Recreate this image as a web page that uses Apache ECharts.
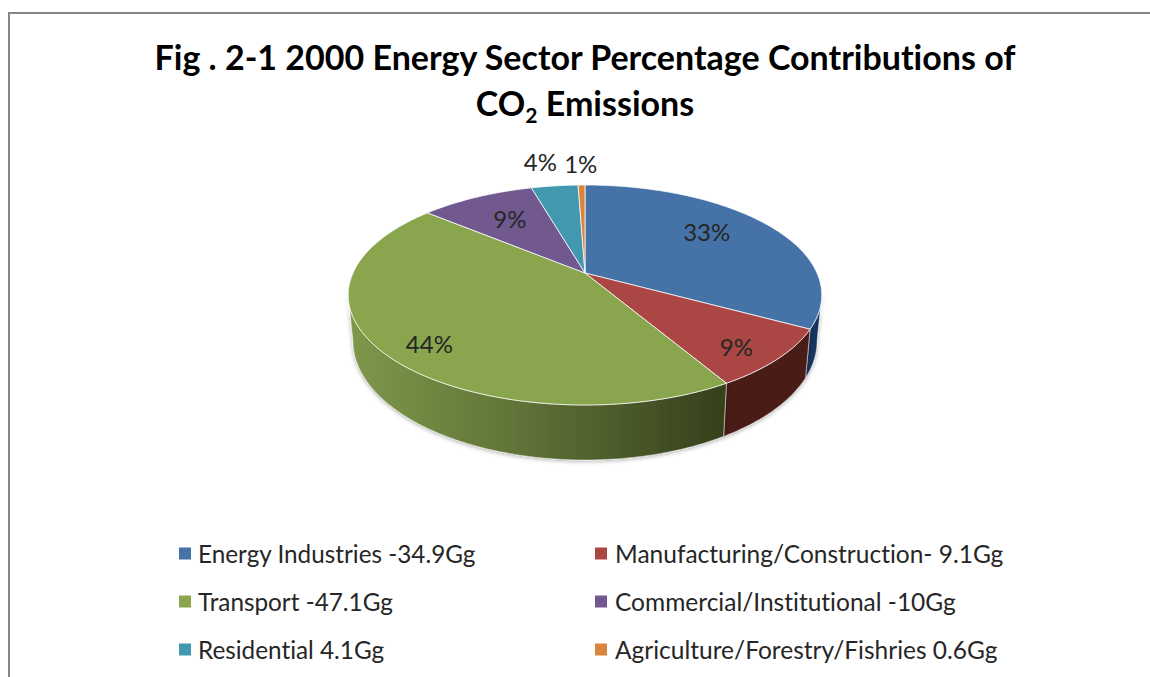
<!DOCTYPE html>
<html>
<head>
<meta charset="utf-8">
<title>Energy Sector CO2</title>
<script src="https://cdn.jsdelivr.net/npm/echarts@6/dist/echarts.min.js"></script>
<style>
html, body { margin: 0; padding: 0; background: #fff; overflow: hidden; }
#chart { width: 1150px; height: 677px; }
#chart text { font-variant-ligatures: none !important; }
</style>
</head>
<body>
<div id="chart"></div>
<script>
// values from the figure
var sectors = [
  'Energy Industries -34.9Gg',
  'Manufacturing/Construction- 9.1Gg',
  'Transport -47.1Gg',
  'Commercial/Institutional -10Gg',
  'Residential 4.1Gg',
  'Agriculture/Forestry/Fishries 0.6Gg'
];
var emissions = [34.9, 9.1, 47.1, 10, 4.1, 0.6];
var percentLabels = ['33%', '9%', '44%', '9%', '4%', '1%'];

var colors = ['#4572a7', '#aa4643', '#89a54e', '#71588f', '#4198af', '#db843d'];
var sideColors = ['#17365d', '#481b17', null, '#3f2f55', '#1f5566', '#8a4a16'];

// pie geometry, top face is a circle seen in perspective
var cx = 585, cy = 295, ry = 110, rxFlat = 232, persp = 0.2;
var depth = 44, bottomScale = 0.98;
var labelR = [0.65, 0.85, 0.82, 0.65, 1.3, 1.29];
var labelDx = [0, -9, 7, -1, -7, 0];
var labelDy = [-9, 2, 8, -3, -4, -1];

var total = emissions.reduce(function (a, b) { return a + b; }, 0);
var starts = [];
emissions.reduce(function (acc, v, i) { starts[i] = acc; return acc + v; }, 0);

function toAngle(v) { return v / total * Math.PI * 2; }

function project(theta, r) {
  var u = Math.sin(theta) * r, v = Math.cos(theta) * r;
  var den = 1 + persp * v;
  return [cx + rxFlat * u / den, cy - (ry * v + ry * persp) / den];
}
function projectBottom(theta) {
  var v = Math.cos(theta), den = 1 + persp * v;
  var p = project(theta, 1);
  return [cx + (p[0] - cx) * bottomScale, p[1] + depth / den];
}

// the wall is only seen between the two tangent points
var sideFrom = Math.acos(-persp);
var sideTo = Math.PI * 2 - sideFrom;

function sliceChildren(i) {
  var a0 = toAngle(starts[i]);
  var a1 = a0 + toAngle(emissions[i]);
  var n = Math.max(4, Math.ceil((a1 - a0) * 60));
  var top = [project(0, 0)];
  for (var k = 0; k <= n; k++) top.push(project(a0 + (a1 - a0) * k / n, 1));

  var children = [];
  var s0 = Math.max(a0, sideFrom), s1 = Math.min(a1, sideTo);
  if (s1 > s0) {
    var upper = [], lower = [];
    for (var j = 0; j <= n; j++) {
      var t = s0 + (s1 - s0) * j / n;
      upper.push(project(t, 1));
      lower.unshift(projectBottom(t));
    }
    var fill = sideColors[i];
    if (i === 2) {
      fill = new echarts.graphic.LinearGradient(349, 0, 724, 0, [
        { offset: 0, color: '#7e984b' },
        { offset: 0.5, color: '#5c6f35' },
        { offset: 1, color: '#36401c' }
      ], true);
    }
    children.push({
      type: 'polygon',
      z2: 1,
      shape: { points: upper.concat(lower) },
      style: {
        fill: fill,
        stroke: 'rgba(255,255,255,0.55)',
        lineWidth: 0.8,
        shadowBlur: 4,
        shadowColor: 'rgba(0,0,0,0.35)',
        shadowOffsetY: 1
      }
    });
  }
  children.push({
    type: 'polygon',
    z2: 10,
    shape: { points: top },
    style: { fill: colors[i], stroke: 'rgba(255,255,255,0.75)', lineWidth: 1 }
  });
  var lp = project((a0 + a1) / 2, labelR[i]);
  children.push({
    type: 'text',
    z2: 20,
    style: {
      x: lp[0] + labelDx[i],
      y: lp[1] + labelDy[i],
      text: percentLabels[i],
      align: 'center',
      verticalAlign: 'middle',
      font: '24px Lato',
      fill: '#262626'
    }
  });
  return children;
}

var series = sectors.map(function (name, i) {
  return {
    type: 'custom',
    name: name,
    coordinateSystem: 'none',
    color: colors[i],
    itemStyle: { color: colors[i] },
    silent: true,
    data: [emissions[i]],
    renderItem: function () {
      return { type: 'group', children: sliceChildren(i) };
    }
  };
});

function legendColumn(names, left, textPad, fontSize) {
  return {
    data: names,
    orient: 'vertical',
    left: left,
    top: 539,
    itemGap: 19,
    itemWidth: 12,
    itemHeight: 12,
    icon: 'rect',
    selectedMode: false,
    padding: 0,
    textStyle: { fontFamily: 'Lato', fontSize: fontSize, color: '#262626', padding: [4, 0, 0, textPad], lineHeight: 25 }
  };
}

var chart = echarts.init(document.getElementById('chart'), null, { renderer: 'svg' });
chart.setOption({
  animation: false,
  backgroundColor: '#fff',
  title: {
    text: 'Fig . 2-1 2000 Energy Sector Percentage Contributions of\nCO{sub|2} Emissions',
    left: 585,
    top: 33,
    textAlign: 'center',
    padding: 0,
    textStyle: {
      fontFamily: 'Lato',
      fontWeight: 'bold',
      fontSize: 34,
      lineHeight: 46,
      color: '#000',
      rich: {
        sub: { fontFamily: 'Lato', fontWeight: 'bold', fontSize: 21, lineHeight: 46, padding: [24, 0, 0, 0], color: '#000' }
      }
    }
  },
  legend: [
    legendColumn([sectors[0], sectors[2], sectors[4]], 179, 2, 24.3),
    legendColumn([sectors[1], sectors[3], sectors[5]], 595, 3, 24.5)
  ],
  graphic: [
    {
      type: 'polyline',
      silent: true,
      shape: { points: [[9, 677], [9, 13], [1150, 13]] },
      style: { stroke: '#868686', lineWidth: 2, fill: 'none' }
    }
  ],
  series: series
});
</script>
</body>
</html>
